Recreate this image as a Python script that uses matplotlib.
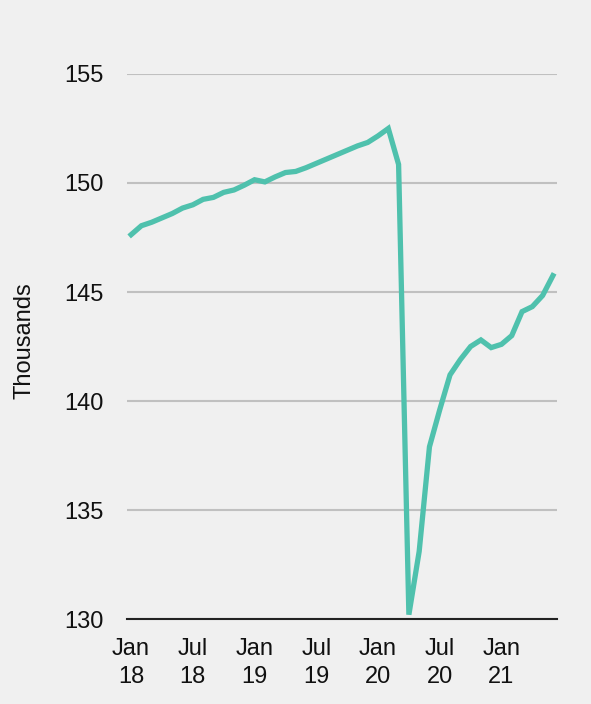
import numpy as np
from matplotlib import pyplot as plt

plt.rcParams['font.family'] = ['Liberation Sans', 'DejaVu Sans']

# monthly values, Jan 2018 .. Jun 2021 (thousands)
months = ["Jan 18", "Feb 18", "Mar 18", "Apr 18", "May 18", "Jun 18",
          "Jul 18", "Aug 18", "Sep 18", "Oct 18", "Nov 18", "Dec 18",
          "Jan 19", "Feb 19", "Mar 19", "Apr 19", "May 19", "Jun 19",
          "Jul 19", "Aug 19", "Sep 19", "Oct 19", "Nov 19", "Dec 19",
          "Jan 20", "Feb 20", "Mar 20", "Apr 20", "May 20", "Jun 20",
          "Jul 20", "Aug 20", "Sep 20", "Oct 20", "Nov 20", "Dec 20",
          "Jan 21", "Feb 21", "Mar 21", "Apr 21", "May 21", "Jun 21"]
values = [147.63, 148.04, 148.20, 148.40, 148.60, 148.85,
          149.00, 149.25, 149.34, 149.57, 149.68, 149.90,
          150.15, 150.05, 150.28, 150.48, 150.53, 150.70,
          150.90, 151.10, 151.30, 151.50, 151.70, 151.86,
          152.16, 152.50, 150.85, 130.20, 133.10, 137.90,
          139.60, 141.20, 141.90, 142.50, 142.80, 142.45,
          142.60, 143.00, 144.10, 144.33, 144.84, 145.75]

tick_pos = [0, 6, 12, 18, 24, 30, 36]
tick_labels = ["Jan\n18", "Jul\n18", "Jan\n19", "Jul\n19", "Jan\n20", "Jul\n20", "Jan\n21"]
y_ticks = [130, 135, 140, 145, 150, 155]

bg = "#f0f0f0"
fig = plt.figure(figsize=(5.91, 7.04), dpi=100, facecolor=bg)
ax = fig.add_axes([0.2149, 0.1207, 0.7276, 0.7742], facecolor=bg)

x = np.arange(len(values))
ax.plot(x, values, color="#4fc1ad", linewidth=3.8, solid_joinstyle="miter", zorder=3)

ax.set_xlim(-0.4, 41.4)
ax.set_ylim(130, 155)
ax.set_yticks(y_ticks)
ax.set_xticks(tick_pos)
ax.set_xticklabels(tick_labels, linespacing=1.35)

ax.grid(axis="y", color="#c0c0c0", linewidth=1.5)
ax.set_axisbelow(True)
for s in ["top", "right", "left"]:
    ax.spines[s].set_visible(False)
ax.spines["bottom"].set_color("#222222")
ax.spines["bottom"].set_linewidth(1.5)
ax.spines["bottom"].set_zorder(4)

ax.tick_params(axis="y", length=0, pad=16.5, labelsize=17, colors="#111111")
ax.tick_params(axis="x", length=0, pad=14, labelsize=17, colors="#111111")

fig.text(25 / 591, 1 - 341 / 704, "Thousands", rotation=90, ha="center", va="center",
         fontsize=17, color="#111111")

fig.savefig("out.png", dpi=100, facecolor=bg)
